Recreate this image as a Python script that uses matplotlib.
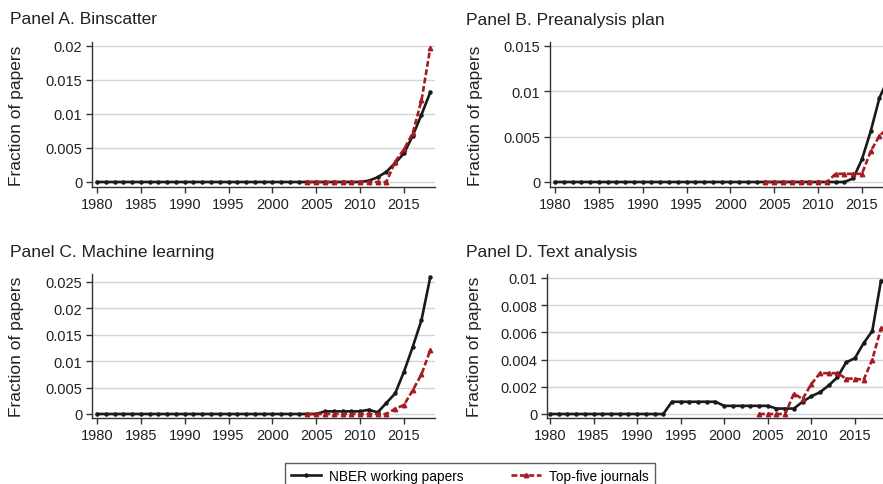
import numpy as np
import matplotlib.pyplot as plt

plt.rcParams['font.family'] = ['Liberation Sans', 'DejaVu Sans']

# years
nber_years = list(range(1980, 2019))
top5_years = list(range(2004, 2019))

# Panel A. Binscatter
a_nber = [0.0] * 31 + [0.0002, 0.0007, 0.0015, 0.0028, 0.0042, 0.0068, 0.0099, 0.0132]
a_top5 = [0.0] * 10 + [0.0030, 0.0048, 0.0072, 0.0120, 0.0197]

# Panel B. Preanalysis plan
b_nber = [0.0] * 34 + [0.0004, 0.0025, 0.0056, 0.0093, 0.0114]
b_top5 = [0.0] * 8 + [0.0009, 0.0009, 0.0009, 0.0009, 0.0034, 0.0051, 0.0060]

# Panel C. Machine learning
c_nber = ([0.0] * 26 + [0.0005, 0.0005, 0.0005, 0.0005, 0.0005, 0.0008, 0.0003,
                        0.0021, 0.0039, 0.0080, 0.0127, 0.0178, 0.0259])
c_top5 = [0.0] * 10 + [0.0010, 0.0017, 0.0045, 0.0075, 0.0121]

# Panel D. Text analysis
d_nber = ([0.0] * 14 + [0.0009] * 6 + [0.0006] * 6 + [0.0004] * 3 +
          [0.0009, 0.0013, 0.0016, 0.0021, 0.0027, 0.0038, 0.0041, 0.0052, 0.0061, 0.0098])
d_top5 = [0.0, 0.0, 0.0, 0.0, 0.0015, 0.0011, 0.0022, 0.0030, 0.0030, 0.0030,
          0.0026, 0.0026, 0.0025, 0.0040, 0.0063]

x_ticks = [1980, 1985, 1990, 1995, 2000, 2005, 2010, 2015]

RED = "#a51c21"
W, H = 883, 485

panels = [
    dict(title="Panel A. Binscatter", nber=a_nber, top5=a_top5,
         yticks=[0, 0.005, 0.01, 0.015, 0.02], ylabels=["0", "0.005", "0.01", "0.015", "0.02"],
         box=(92, 43, 435, 188), y0=183, ytop=47, vtop=0.02, x1980=97, step=8.77,
         tx=10, ty=20, lx=24),
    dict(title="Panel B. Preanalysis plan", nber=b_nber, top5=b_top5,
         yticks=[0, 0.005, 0.01, 0.015], ylabels=["0", "0.005", "0.01", "0.015"],
         box=(550, 43, 893, 188), y0=183, ytop=47, vtop=0.015, x1980=555, step=8.77,
         tx=466, ty=20, lx=483),
    dict(title="Panel C. Machine learning", nber=c_nber, top5=c_top5,
         yticks=[0, 0.005, 0.01, 0.015, 0.02, 0.025],
         ylabels=["0", "0.005", "0.01", "0.015", "0.02", "0.025"],
         box=(92, 275, 435, 419), y0=415, ytop=283, vtop=0.025, x1980=97, step=8.77,
         tx=10, ty=253, lx=24),
    dict(title="Panel D. Text analysis", nber=d_nber, top5=d_top5,
         yticks=[0, 0.002, 0.004, 0.006, 0.008, 0.01],
         ylabels=["0", "0.002", "0.004", "0.006", "0.008", "0.01"],
         box=(547, 275, 890, 419), y0=415, ytop=279, vtop=0.01, x1980=550, step=8.71,
         tx=466, ty=253, lx=482),
]

fig = plt.figure(figsize=(W / 100, H / 100), dpi=100)

for p in panels:
    l, t, r, b = p["box"]
    ax = fig.add_axes([l / W, 1 - b / H, (r - l) / W, (b - t) / H])
    # map pixel edges to data limits
    xl = 1980 + (l - p["x1980"]) / p["step"]
    xr = 1980 + (r - p["x1980"]) / p["step"]
    ppu = (p["y0"] - p["ytop"]) / p["vtop"]
    yb = -(b - p["y0"]) / ppu
    yt = (p["y0"] - t) / ppu
    ax.set_xlim(xl, xr)
    ax.set_ylim(yb, yt)

    for yv in p["yticks"]:
        ax.axhline(yv, color="#d4d4d4", lw=1.0, zorder=0)

    ax.plot(nber_years, p["nber"], color="#1a1a1a", lw=1.9, marker="o", ms=2.2,
            zorder=3, label="NBER working papers")
    ax.plot(top5_years, p["top5"], color=RED, lw=1.9, ls=(0, (2.2, 1.0)), marker="^", ms=3.2,
            zorder=4, label="Top-five journals")

    ax.set_xticks(x_ticks)
    ax.set_yticks(p["yticks"])
    ax.set_yticklabels(p["ylabels"])
    ax.tick_params(axis="both", labelsize=10.5, length=4, width=1, color="#333333",
                   labelcolor="#222222", pad=3)
    for s in ["top", "right"]:
        ax.spines[s].set_visible(False)
    for s in ["left", "bottom"]:
        ax.spines[s].set_color("#333333")
        ax.spines[s].set_linewidth(1.0)
    ax.set_ylabel("Fraction of papers", fontsize=12.5, color="#222222")
    ax.yaxis.set_label_coords((p["lx"] - l) / (r - l), 0.5)
    fig.text(p["tx"] / W, 1 - p["ty"] / H, p["title"], fontsize=12.5, color="#222222",
             ha="left", va="center")

handles, labels = ax.get_legend_handles_labels()
leg = fig.legend(handles, labels, loc="upper left", bbox_to_anchor=(285 / W, 1 - 464 / H),
                 ncol=2, fontsize=9.8, frameon=True, fancybox=False, edgecolor="#333333",
                 handlelength=2.2, columnspacing=3.5, borderpad=0.45, handletextpad=0.6,
                 borderaxespad=0)
leg.get_frame().set_linewidth(1.0)

fig.savefig("out.png", dpi=100)
